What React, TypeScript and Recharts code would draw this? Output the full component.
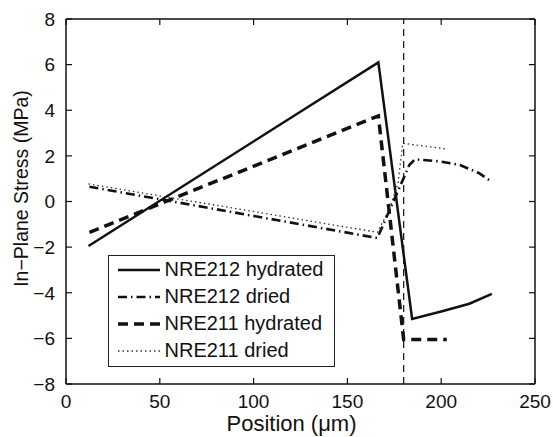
import React from 'react'
import { LineChart, Line, XAxis, YAxis, ReferenceLine, Legend, Label } from 'recharts'

const FONT = '"Liberation Sans", Arial, Helvetica, sans-serif'

const xTicks = [0, 50, 100, 150, 200, 250]
const yTicks = [-8, -6, -4, -2, 0, 2, 4, 6, 8]
const interfaceX = 180

// NRE212 hydrated (solid)
const h212X = [12, 166.5, 184.5, 200, 215, 227]
const h212Y = [-1.95, 6.1, -5.15, -4.82, -4.48, -4.05]
// NRE212 dried (dash-dot)
const d212X = [12.5, 166, 183, 186, 200, 210, 220, 227]
const d212Y = [0.65, -1.6, 1.6, 1.85, 1.75, 1.6, 1.25, 0.86]
// NRE211 hydrated (dashed)
const h211X = [12.5, 166.5, 180, 203]
const h211Y = [-1.35, 3.75, -6.05, -6.05]
// NRE211 dried (dotted)
const d211X = [12, 166, 172, 177, 179.5, 203]
const d211Y = [0.77, -1.35, -0.4, 0.8, 2.55, 2.3]

const toPoints = (xs: number[], ys: number[]) => xs.map((x, i) => ({ x, y: ys[i] }))

const series = [
  { name: 'NRE212 hydrated', data: toPoints(h212X, h212Y), dash: undefined, width: 2.5, color: '#111' },
  { name: 'NRE212 dried', data: toPoints(d212X, d212Y), dash: '9 4 1.5 4', width: 2.6, color: '#111' },
  { name: 'NRE211 hydrated', data: toPoints(h211X, h211Y), dash: '10 6', width: 3.5, color: '#111' },
  { name: 'NRE211 dried', data: toPoints(d211X, d211Y), dash: '1.5 3', width: 1.3, color: '#333' },
]

// the chart covers the whole window (body margin removed below)
const W = 553
const H = 437
const TOP = 19
const RIGHT = 535
const LEFT_W = 66
const BOTTOM_H = 53
const TICK = 6
const X_MARGIN = 10
const Y_MARGIN = 11

const fmt = (v: number) => (v < 0 ? `\u2212${-v}` : `${v}`)

// bottom tick: label + inward tick, mirrored tick on the top edge;
// the last tick also draws the right edge of the box
const XTick = ({ x, y, payload }: any) => {
  const axisY = y - X_MARGIN
  return (
    <g>
      <line x1={x} y1={axisY} x2={x} y2={axisY - TICK} stroke="#111" strokeWidth={1.2} />
      <line x1={x} y1={TOP} x2={x} y2={TOP + TICK} stroke="#111" strokeWidth={1.2} />
      {payload.value === xTicks[xTicks.length - 1] && (
        <line x1={x} y1={TOP} x2={x} y2={axisY} stroke="#111" strokeWidth={1.5} />
      )}
      <text x={x} y={y + 14} textAnchor="middle" fontSize={19} fontFamily={FONT} fill="#111">
        {fmt(payload.value)}
      </text>
    </g>
  )
}

// left tick: label + inward tick, plus mirrored tick on the right edge
const YTick = ({ x, y, payload }: any) => (
  <g>
    <line x1={x + Y_MARGIN} y1={y} x2={x + Y_MARGIN + TICK} y2={y} stroke="#111" strokeWidth={1.2} />
    <line x1={RIGHT} y1={y} x2={RIGHT - TICK} y2={y} stroke="#111" strokeWidth={1.2} />
    <text x={x} y={y} dy="0.36em" textAnchor="end" fontSize={19} fontFamily={FONT} fill="#111">
      {fmt(payload.value)}
    </text>
  </g>
)

const LegendBox = () => (
  <div
    style={{
      width: 227,
      height: 112,
      boxSizing: 'border-box',
      border: '1.5px solid #222',
      background: '#fff',
      paddingLeft: 8.5,
      fontFamily: FONT,
      fontSize: 20,
      color: '#111',
    }}
  >
    {series.map(s => (
      <div key={s.name} style={{ height: 27, display: 'flex', alignItems: 'center' }}>
        <svg width={42} height={10} style={{ marginRight: 5 }}>
          <line x1={0} y1={5} x2={42} y2={5} stroke={s.color} strokeWidth={s.width} strokeDasharray={s.dash} />
        </svg>
        <span>{s.name}</span>
      </div>
    ))}
  </div>
)

export default function App() {
  return (
    <div style={{ position: 'relative', width: W, height: H, fontFamily: FONT }}>
      <style>{'html, body { margin: 0; overflow: hidden; } #root { width: 553px; height: 437px; }'}</style>
      <LineChart width={W} height={H} margin={{ top: TOP, right: W - RIGHT, bottom: 0, left: 0 }}>
        <XAxis
          type="number"
          dataKey="x"
          domain={[0, 250]}
          ticks={xTicks}
          interval={0}
          allowDataOverflow
          height={BOTTOM_H}
          tickSize={0}
          tickMargin={X_MARGIN}
          tick={<XTick />}
          stroke="#111"
          strokeWidth={1.5}
        >
          <Label
            content={({ viewBox }: any) => (
              <text
                x={viewBox.x + viewBox.width / 2 - 9}
                y={viewBox.y + 47}
                textAnchor="middle"
                fontSize={22}
                fontFamily={FONT}
                fill="#111"
              >
                Position (μm)
              </text>
            )}
          />
        </XAxis>
        <YAxis
          type="number"
          domain={[-8, 8]}
          ticks={yTicks}
          interval={0}
          allowDataOverflow
          width={LEFT_W}
          tickSize={0}
          tickMargin={Y_MARGIN}
          tick={<YTick />}
          stroke="#111"
          strokeWidth={1.5}
        >
          <Label
            content={({ viewBox }: any) => (
              <text
                transform={`translate(28, ${viewBox.y + viewBox.height / 2 - 13}) rotate(-90)`}
                textAnchor="middle"
                fontSize={19.5}
                fontFamily={FONT}
                fill="#111"
              >
                In−Plane Stress (MPa)
              </text>
            )}
          />
        </YAxis>
        {/* top edge of the box */}
        <ReferenceLine y={8} stroke="#111" strokeWidth={1.5} ifOverflow="visible" />
        <ReferenceLine x={interfaceX} stroke="#111" strokeWidth={1.2} strokeDasharray="7 5" />
        {series.map(s => (
          <Line
            key={s.name}
            name={s.name}
            data={s.data}
            dataKey="y"
            type="linear"
            stroke={s.color}
            strokeWidth={s.width}
            strokeDasharray={s.dash}
            dot={false}
            activeDot={false}
            isAnimationActive={false}
          />
        ))}
        <Legend
          verticalAlign="middle"
          align="center"
          content={() => <LegendBox />}
          wrapperStyle={{ left: 108, top: 255, width: 227, height: 112 }}
        />
      </LineChart>
    </div>
  )
}
